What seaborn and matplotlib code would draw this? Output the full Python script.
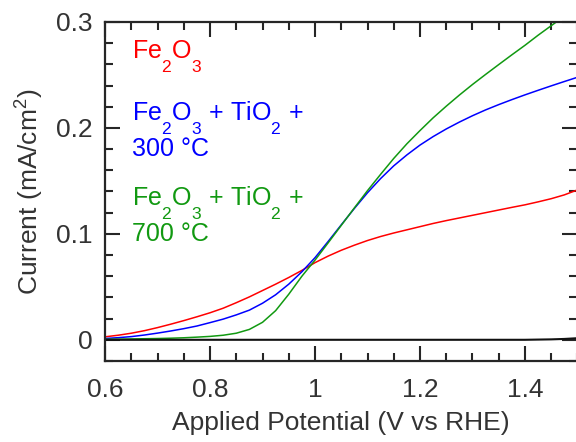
import matplotlib
matplotlib.use("Agg")
import matplotlib.pyplot as plt
import matplotlib._mathtext as _mt
import seaborn as sns
import pandas as pd
from matplotlib.ticker import MultipleLocator, FixedLocator, FixedFormatter

# Applied potential grid (V vs RHE)
potential = [0.600, 0.625, 0.650, 0.675, 0.700, 0.725, 0.750, 0.775, 0.800,
             0.825, 0.850, 0.875, 0.900, 0.925, 0.950, 0.975, 1.000, 1.025,
             1.050, 1.075, 1.100, 1.125, 1.150, 1.175, 1.200, 1.225, 1.250,
             1.275, 1.300, 1.325, 1.350, 1.375, 1.400, 1.425, 1.450, 1.475,
             1.500]

# Photocurrent density (mA/cm^2)
fe2o3 = [0.0028, 0.0043, 0.0062, 0.0086, 0.0115, 0.0147, 0.0181, 0.0217,
         0.0255, 0.0298, 0.0350, 0.0405, 0.0465, 0.0525, 0.0588, 0.0655,
         0.0728, 0.0790, 0.0845, 0.0893, 0.0937, 0.0975, 0.1008, 0.1038,
         0.1068, 0.1098, 0.1125, 0.1150, 0.1175, 0.1200, 0.1225, 0.1250,
         0.1274, 0.1302, 0.1332, 0.1368, 0.1415]
tio2_300 = [0.0012, 0.0020, 0.0030, 0.0045, 0.0063, 0.0083, 0.0105, 0.0130,
            0.0162, 0.0195, 0.0235, 0.0280, 0.0345, 0.0425, 0.0525, 0.0642,
            0.0775, 0.0928, 0.1085, 0.1240, 0.1388, 0.1522, 0.1642, 0.1745,
            0.1838, 0.1918, 0.1990, 0.2055, 0.2115, 0.2170, 0.2220, 0.2267,
            0.2312, 0.2355, 0.2397, 0.2438, 0.2478]
tio2_700 = [0.0005, 0.0006, 0.0008, 0.0010, 0.0012, 0.0015, 0.0019, 0.0025,
            0.0032, 0.0043, 0.0062, 0.0098, 0.0165, 0.0275, 0.0430, 0.0600,
            0.0752, 0.0915, 0.1080, 0.1245, 0.1408, 0.1562, 0.1712, 0.1850,
            0.1975, 0.2095, 0.2205, 0.2310, 0.2410, 0.2505, 0.2598, 0.2690,
            0.2780, 0.2875, 0.2965, 0.3055, 0.3140]
dark = [0.0000, 0.0000, 0.0000, 0.0000, 0.0000, 0.0000, 0.0000, 0.0000,
        0.0000, 0.0000, 0.0000, 0.0000, 0.0000, 0.0000, 0.0000, 0.0000,
        0.0000, 0.0000, 0.0000, 0.0000, 0.0000, 0.0000, 0.0000, 0.0000,
        0.0000, 0.0000, 0.0000, 0.0000, 0.0000, 0.0000, 0.0000, 0.0000,
        0.0000, 0.0002, 0.0004, 0.0008, 0.0015]

series_names = ["Fe2O3", "Fe2O3 + TiO2 + 300 C", "Fe2O3 + TiO2 + 700 C", "dark"]
series_colors = ["#ff0000", "#0000ff", "#119911", "#111111"]
series_widths = [1.1, 1.1, 1.1, 1.5]

x_tick_values = [0.6, 0.8, 1.0, 1.2, 1.4]
x_tick_labels = ["0.6", "0.8", "1", "1.2", "1.4"]
y_tick_values = [0.0, 0.1, 0.2, 0.3]
y_tick_labels = ["0", "0.1", "0.2", "0.3"]

frames = []
for name, vals in zip(series_names, [fe2o3, tio2_300, tio2_700, dark]):
    frames.append(pd.DataFrame({"potential": potential, "current": vals,
                                "sample": name}))
df = pd.concat(frames, ignore_index=True)

sns.set_style("ticks")
plt.rcParams["font.family"] = ["Liberation Sans", "DejaVu Sans"]
plt.rcParams["mathtext.fontset"] = "custom"
plt.rcParams["mathtext.rm"] = "Liberation Sans"
plt.rcParams["mathtext.it"] = "Liberation Sans:italic"
plt.rcParams["mathtext.bf"] = "Liberation Sans:bold"
# deeper subscripts, as in the chemical formulas of the labels
_mt.FontConstantsBase.sub1 = 1.07

ink = "#262626"
text_ink = "#333333"

fig = plt.figure(figsize=(5.76, 4.42), dpi=100)
ax = fig.add_axes([0.1823, 0.1833, 0.8203, 0.767])

for name, col, lw in zip(series_names, series_colors, series_widths):
    sns.lineplot(data=df[df["sample"] == name], x="potential", y="current",
                 color=col, linewidth=lw, ax=ax, legend=False, sort=True)

ax.set_xlim(0.6, 1.5)
ax.set_ylim(-0.02, 0.3)

ax.xaxis.set_major_locator(FixedLocator(x_tick_values))
ax.xaxis.set_major_formatter(FixedFormatter(x_tick_labels))
ax.yaxis.set_major_locator(FixedLocator(y_tick_values))
ax.yaxis.set_major_formatter(FixedFormatter(y_tick_labels))
ax.xaxis.set_minor_locator(MultipleLocator(0.05))
ax.yaxis.set_minor_locator(MultipleLocator(0.02))

ax.tick_params(which="both", direction="in", top=True, right=True,
               color=ink, width=1.5, labelcolor=text_ink, labelsize=19)
ax.tick_params(which="major", length=11)
ax.tick_params(which="minor", length=6)
ax.tick_params(axis="x", which="major", pad=12)
ax.tick_params(axis="y", which="major", pad=9)

for sp in ax.spines.values():
    sp.set_visible(True)
    sp.set_color(ink)
    sp.set_linewidth(1.6)

ax.set_xlabel("Applied Potential (V vs RHE)", fontsize=19, color=text_ink,
              labelpad=7)
ax.set_ylabel(r"Current (mA/cm$^2$)", fontsize=19, color=text_ink,
              labelpad=7)

# Curve labels
lab_kw = dict(transform=ax.transAxes, fontsize=18, va="baseline", ha="left")
ax.text(0.057, 0.894, r"Fe$_2$O$_3$", color=series_colors[0], **lab_kw)
ax.text(0.057, 0.711, r"Fe$_2$O$_3$ + TiO$_2$ +", color=series_colors[1], **lab_kw)
ax.text(0.057, 0.605, "300 °C", color=series_colors[1], **lab_kw)
ax.text(0.057, 0.460, r"Fe$_2$O$_3$ + TiO$_2$ +", color=series_colors[2], **lab_kw)
ax.text(0.057, 0.354, "700 °C", color=series_colors[2], **lab_kw)

fig.savefig("out.png", dpi=100)
